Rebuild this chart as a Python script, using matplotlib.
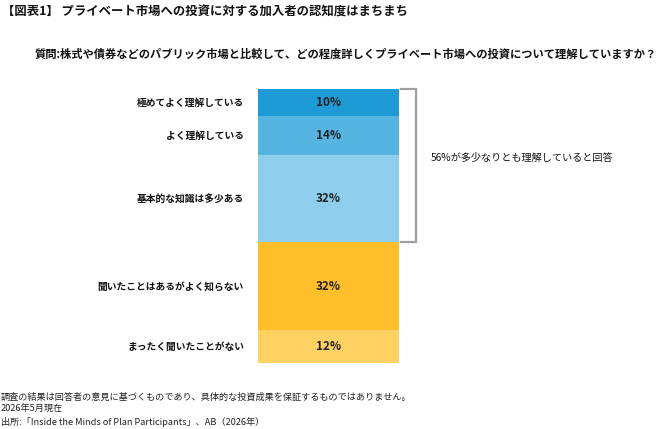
import matplotlib.pyplot as plt

plt.rcParams['font.family'] = ['Noto Sans CJK JP', 'DejaVu Sans']

# data (top to bottom)
categories = ['極めてよく理解している', 'よく理解している', '基本的な知識は多少ある',
              '聞いたことはあるがよく知らない', 'まったく聞いたことがない']
values = [10, 14, 32, 32, 12]
colors = ['#1e9ad6', '#56b4e1', '#8fcdec', '#febf2a', '#fdd162']
bracket_n = 3
bracket_text = '56%が多少なりとも理解していると回答'

title = '【図表1】 プライベート市場への投資に対する加入者の認知度はまちまち'
question = '質問:株式や債券などのパブリック市場と比較して、どの程度詳しくプライベート市場への投資について理解していますか？'
notes = ['調査の結果は回答者の意見に基づくものであり、具体的な投資成果を保証するものではありません。',
         '2026年5月現在',
         '出所:「Inside the Minds of Plan Participants」、AB（2026年）']

W, H = 659, 429
fig = plt.figure(figsize=(W / 100, H / 100), dpi=100)

# bar area in pixels
bx0, bx1, by0, by1 = 258, 399, 89, 363
ax = fig.add_axes([bx0 / W, 1 - by1 / H, (bx1 - bx0) / W, (by1 - by0) / H])
px = 1.0 / (bx1 - bx0)  # data units per pixel along x

bottom = 0
for cat, v, c in zip(categories, values, colors):
    ax.bar(0, v, width=1, bottom=bottom, color=c, edgecolor='none')
    mid = bottom + v / 2
    ax.text(0, mid, f'{v}%', ha='center', va='center', fontsize=8.4,
            fontweight='bold', color='#222222')
    ax.text(-0.5 - 14 * px, mid, cat, ha='right', va='center', fontsize=7,
            fontweight='bold', color='#111111')
    bottom += v

ax.set_xlim(-0.5, 0.5)
ax.set_ylim(100, 0)
ax.axis('off')

# bracket
btop = 0
bbot = sum(values[:bracket_n])
xa = 0.5 + 2 * px
xb = 0.5 + 17 * px
ax.plot([xa, xb, xb, xa], [btop, btop, bbot, bbot], color='#a0a0a0', lw=1.6,
        clip_on=False, solid_joinstyle='miter')
ax.text(0.5 + 32 * px, 25, bracket_text, ha='left', va='center', fontsize=7.3,
        color='#111111')

fig.text(2 / W, 1 - 12 / H, title, ha='left', va='center', fontsize=8.9,
         fontweight='bold', color='#111111')
fig.text(657 / W, 1 - 54 / H, question, ha='right', va='center', fontsize=8.1,
         fontweight='bold', color='#111111')
for i, n in enumerate(notes):
    fig.text(1 / W, 1 - (397 + 12.5 * i) / H, n, ha='left', va='center',
             fontsize=6.6, color='#222222')

fig.savefig('out.png', dpi=100)
